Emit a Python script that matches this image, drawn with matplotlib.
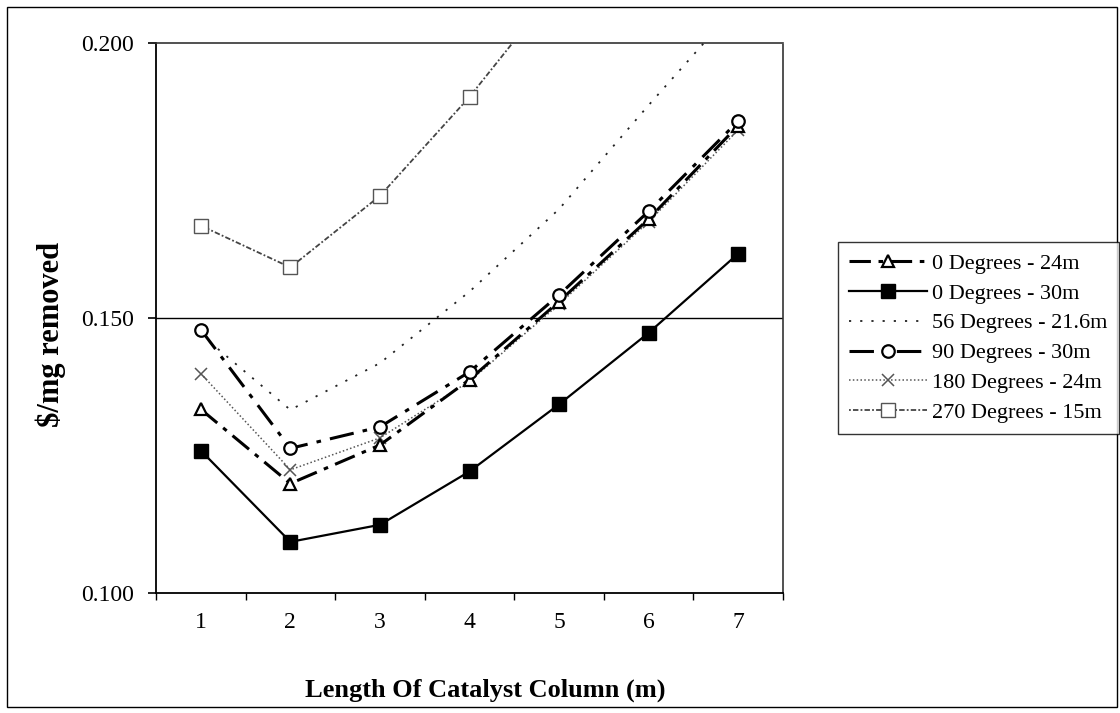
import matplotlib
matplotlib.use("Agg")
import matplotlib.pyplot as plt
from matplotlib.patches import Rectangle

# ---- data ----
lengths = [1, 2, 3, 4, 5, 6, 7]
x_tick_labels = ["1", "2", "3", "4", "5", "6", "7"]
y_ticks = [0.100, 0.150, 0.200]
y_tick_labels = ["0.100", "0.150", "0.200"]

deg0_24m = [0.1334, 0.1199, 0.1269, 0.1388, 0.1530, 0.1680, 0.1850]
deg0_30m = [0.1259, 0.1093, 0.1124, 0.1221, 0.1343, 0.1473, 0.1617]
deg56_216m = [0.1470, 0.1333, 0.1418, 0.1548, 0.1698, 0.1887, 0.2070]
deg90_30m = [0.1479, 0.1263, 0.1302, 0.1402, 0.1542, 0.1694, 0.1858]
deg180_24m = [0.1399, 0.1224, 0.1282, 0.1385, 0.1525, 0.1675, 0.1842]
deg270_15m = [0.1668, 0.1592, 0.1722, 0.1902, 0.2106, 0.2330, 0.2580]

series_names = ["0 Degrees - 24m", "0 Degrees - 30m", "56 Degrees - 21.6m",
                "90 Degrees - 30m", "180 Degrees - 24m", "270 Degrees - 15m"]

SERIF = ["Liberation Serif", "DejaVu Serif"]
plt.rcParams["font.family"] = SERIF

W, H = 1120, 713
fig = plt.figure(figsize=(W / 100, H / 100), dpi=100)
fig.patch.set_facecolor("white")

# outer chart border
fig.patches.append(Rectangle((7 / W, 1 - 707 / H), 1110 / W, 700 / H,
                             transform=fig.transFigure, fill=False,
                             edgecolor="black", linewidth=1.0))

ax = fig.add_axes([156 / W, (H - 593) / H, 627 / W, 550 / H])

ax.plot(lengths, deg0_24m, color="black", linewidth=2.2,
        linestyle=(0, (7, 2.5, 1.5, 2.5)), marker="^", markersize=9,
        markerfacecolor="white", markeredgecolor="black", markeredgewidth=1.6,
        label=series_names[0], zorder=4)
ax.plot(lengths, deg0_30m, color="black", linewidth=1.6, linestyle="-",
        marker="s", markersize=10, markerfacecolor="black",
        markeredgecolor="black", label=series_names[1], zorder=5)
ax.plot(lengths, deg56_216m, color="#222222", linewidth=1.3,
        linestyle=(0, (1.2, 5)), label=series_names[2], zorder=3)
ax.plot(lengths, deg90_30m, color="black", linewidth=2.2,
        linestyle=(0, (8, 3, 1.5, 3)), marker="o", markersize=9,
        markerfacecolor="white", markeredgecolor="black", markeredgewidth=1.6,
        label=series_names[3], zorder=4)
ax.plot(lengths, deg180_24m, color="#555555", linewidth=1.1,
        linestyle=(0, (1, 1.5)), marker="x", markersize=9,
        markeredgecolor="#555555", markeredgewidth=1.1,
        label=series_names[4], zorder=3)
ax.plot(lengths, deg270_15m, color="#444444", linewidth=1.3,
        linestyle=(0, (1, 1.2, 3, 1.2)), marker="s", markersize=10,
        markerfacecolor="white", markeredgecolor="#555555", markeredgewidth=1.0,
        label=series_names[5], zorder=3)

ax.set_xlim(0.5, 7.5)
ax.set_ylim(0.100, 0.200)

# gridline at 0.150
ax.axhline(0.150, color="black", linewidth=1.0, zorder=1)

# spines
for side in ["top", "right"]:
    ax.spines[side].set_linestyle((0, (1, 1)))
    ax.spines[side].set_linewidth(1.2)
    ax.spines[side].set_color("#333333")
ax.spines["left"].set_linewidth(1.3)
ax.spines["bottom"].set_linewidth(1.3)

# y ticks
ax.set_yticks(y_ticks)
ax.set_yticklabels(y_tick_labels, fontsize=17)
ax.tick_params(axis="y", direction="out", length=6, width=1.2, pad=10)

# x ticks: boundaries get tick marks, centers get labels
ax.set_xticks([i + 0.5 for i in range(0, 8)])
ax.set_xticklabels([])
ax.tick_params(axis="x", which="major", direction="out", length=5, width=1.0)
ax.set_xticks(lengths, minor=True)
ax.set_xticklabels(x_tick_labels, minor=True, fontsize=17)
ax.tick_params(axis="x", which="minor", length=0, pad=14)

# axis titles
fig.text(485 / W, 1 - 690 / H, "Length Of Catalyst Column (m)",
         ha="center", va="center", fontsize=19, fontweight="bold")
fig.text(51 / W, 1 - 334 / H, "$/mg removed", rotation=90,
         ha="center", va="center", fontsize=22, fontweight="bold")

leg = fig.legend(loc="upper left", bbox_to_anchor=(838 / W, 1 - 242 / H),
                 fontsize=16, frameon=True, fancybox=False, shadow=False,
                 handlelength=3.5, handletextpad=0.25, labelspacing=0.42,
                 borderpad=0.5, borderaxespad=0.0)
leg.get_frame().set_edgecolor("black")
leg.get_frame().set_linewidth(1.0)

fig.savefig("out.png", dpi=100)
